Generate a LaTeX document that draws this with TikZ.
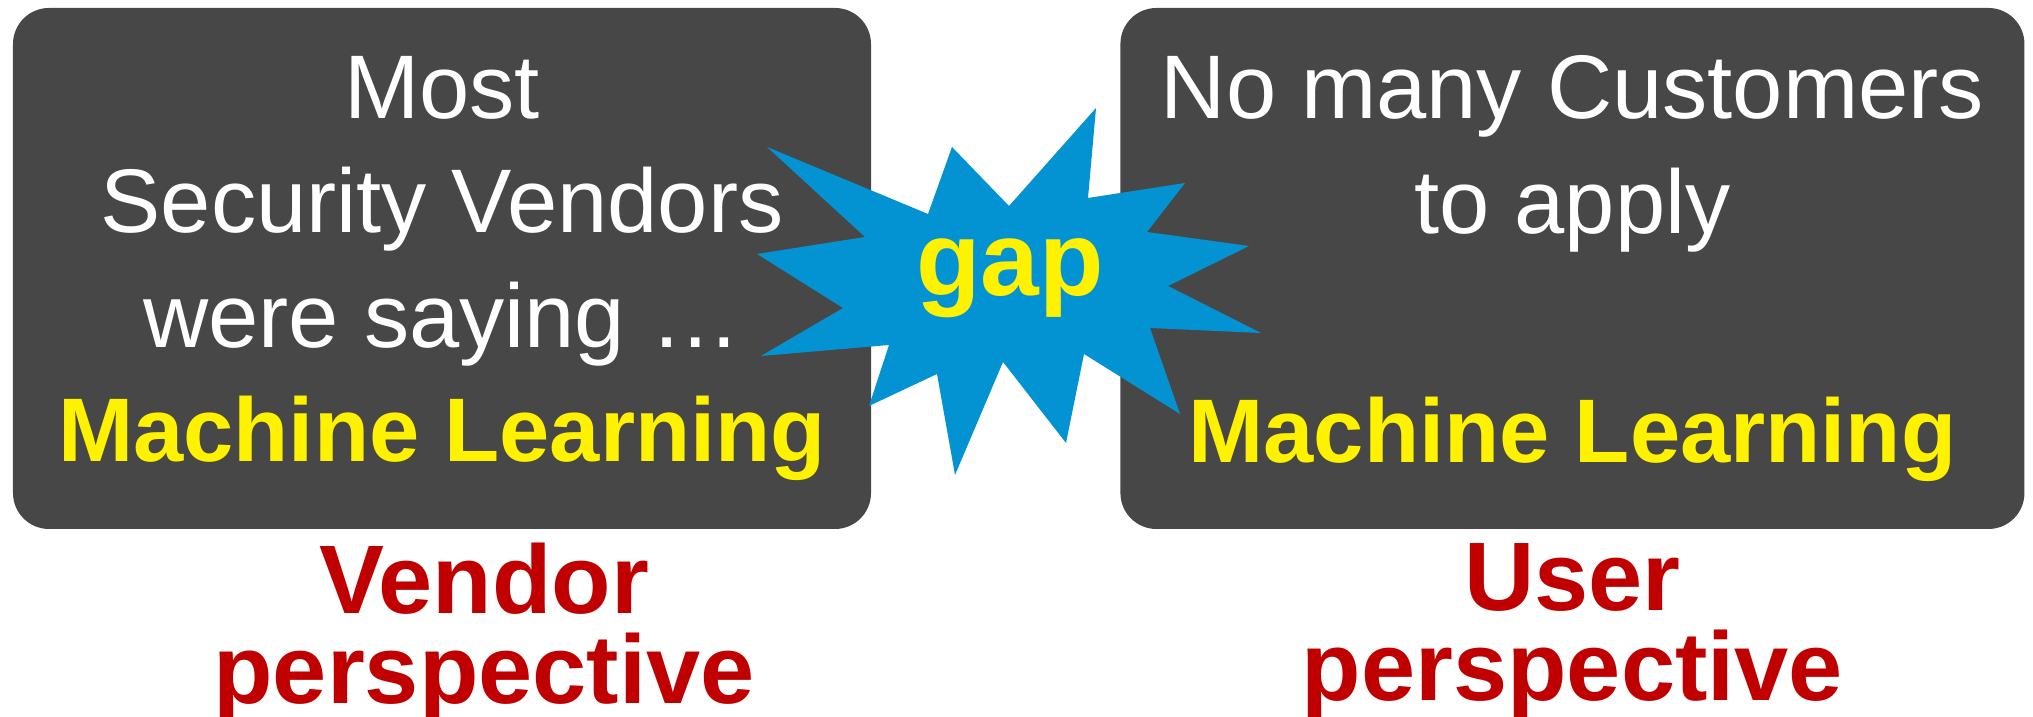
\documentclass[tikz,border=0pt]{standalone}
\usepackage{fontspec}
\setmainfont{Liberation Sans}
\usetikzlibrary{positioning}
\usepackage{xcolor}

\definecolor{boxgray}{RGB}{71,71,71}
\definecolor{burstblue}{RGB}{3,147,211}
\definecolor{labelred}{RGB}{192,0,0}

\begin{document}
\begin{tikzpicture}[
        panel/.style={fill=boxgray, rounded corners=0.36cm, align=center, minimum height=5.21cm, inner sep=0pt, text=white, font=\fontsize{25.7}{32.6}\selectfont},
        side/.style={align=center, inner sep=0pt, text=labelred, font=\fontsize{27.7}{25.6}\selectfont\bfseries}
    ]
        \useasboundingbox (0,0) rectangle (20.33,7.17);

        % Left panel
        \node[panel, minimum width=8.58cm] (vendor) at (4.42,4.485)
            {Most\\Security Vendors\\were saying …\\\textbf{\textcolor{yellow}{Machine Learning}}};

        % Right panel
        \node[panel, minimum width=9.04cm, right=2.48cm of vendor] (user)
            {No many Customers\\to apply\\[32.6pt]\textbf{\textcolor{yellow}{Machine Learning}}};

        % Burst in the middle
        \fill[burstblue] (7.67,5.70) -- (8.65,4.80) -- (7.57,4.63) -- (8.43,4.09) -- (7.61,3.61)
            -- (8.89,3.72) -- (8.69,3.11) -- (9.37,3.43) -- (9.55,2.42) -- (10.03,3.55)
            -- (10.66,2.74) -- (10.84,3.63) -- (11.80,3.03) -- (11.50,3.89) -- (12.61,3.84)
            -- (11.68,4.31) -- (12.49,4.71) -- (11.47,4.85) -- (11.85,5.34) -- (10.88,5.19)
            -- (10.96,6.09) -- (10.09,5.11) -- (9.52,5.70) -- (9.28,5.03) -- cycle;
        \node[anchor=base, inner sep=0pt, text=yellow, font=\fontsize{30}{32}\selectfont\bfseries] (gap) at (10.10,4.21) {gap};

        % Labels under the panels
        \node[side, below=0.13cm of vendor, xshift=0.42cm] (vendorlabel) {Vendor\\perspective};
        \node[side, below=0.13cm of user] (userlabel) {User\\perspective};
    \end{tikzpicture}
\end{document}
